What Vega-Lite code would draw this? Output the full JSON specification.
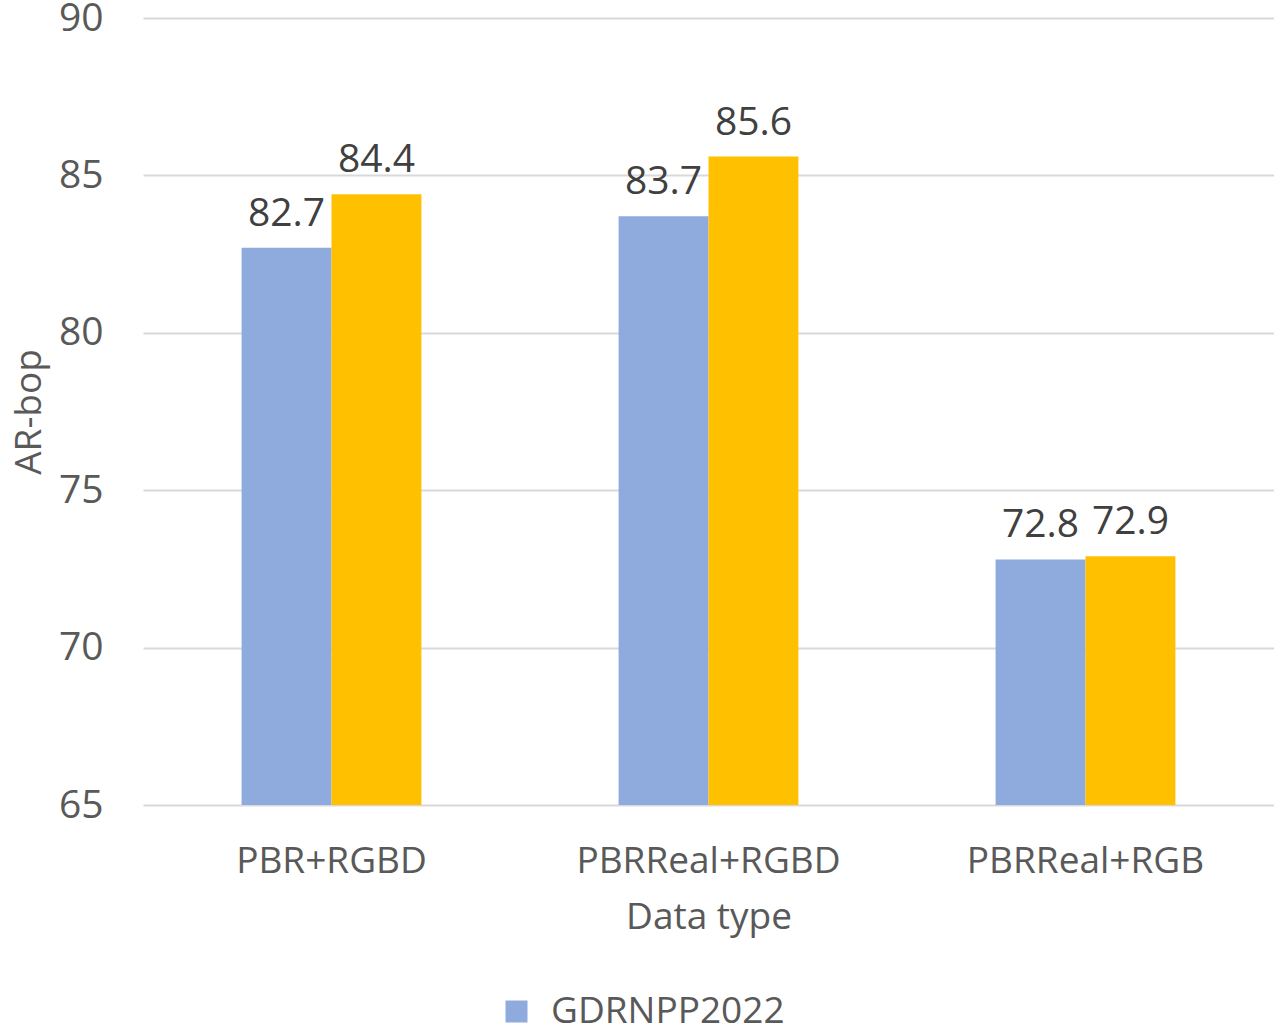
{
  "$schema": "https://vega.github.io/schema/vega-lite/v6.json",
  "autosize": {"type": "none"},
  "width": 1131,
  "height": 787,
  "padding": {"left": 143, "top": 18, "right": 0, "bottom": 228},
  "background": "white",
  "config": {"view": {"stroke": null}, "font": "Open Sans"},
  "data": {
    "values": [
      {"type": "PBR+RGBD", "method": "GDRNPP2022", "value": 82.7},
      {"type": "PBR+RGBD", "method": "Other", "value": 84.4},
      {"type": "PBRReal+RGBD", "method": "GDRNPP2022", "value": 83.7},
      {"type": "PBRReal+RGBD", "method": "Other", "value": 85.6},
      {"type": "PBRReal+RGB", "method": "GDRNPP2022", "value": 72.8},
      {"type": "PBRReal+RGB", "method": "Other", "value": 72.9}
    ]
  },
  "encoding": {
    "x": {
      "field": "type", "type": "nominal", "sort": null,
      "scale": {"paddingInner": 0.523, "paddingOuter": 0.2615},
      "axis": {
        "title": "Data type", "labelAngle": 0, "domain": false, "ticks": false, "labelLimit": 0,
        "labelFontSize": 37, "labelColor": "#595959", "labelPadding": 38,
        "titleFontSize": 37, "titleColor": "#595959", "titleFontWeight": "normal", "titlePadding": 20,
        "labelFont": "Open Sans", "titleFont": "Open Sans"
      }
    },
    "xOffset": {"field": "method", "type": "nominal", "sort": ["GDRNPP2022", "Other"], "scale": {"paddingInner": 0, "paddingOuter": 0}},
    "y": {
      "field": "value", "type": "quantitative",
      "scale": {"domain": [65, 90], "nice": false, "zero": false},
      "axis": {
        "title": "AR-bop", "values": [65, 70, 75, 80, 85, 90], "domain": false, "ticks": false,
        "grid": true, "gridColor": "#D9D9D9", "gridWidth": 2,
        "labelFontSize": 39, "labelColor": "#595959", "labelPadding": 40,
        "titleFontSize": 37, "titleColor": "#595959", "titleFontWeight": "normal", "titlePadding": 10,
        "labelFont": "Open Sans", "titleFont": "Open Sans"
      }
    }
  },
  "layer": [
    {
      "mark": {"type": "bar", "clip": true},
      "encoding": {
        "y2": {"datum": 65},
        "color": {
          "field": "method", "type": "nominal",
          "scale": {"domain": ["GDRNPP2022", "Other"], "range": ["#8FAADC", "#FFC000"]},
          "legend": {
            "values": ["GDRNPP2022"], "title": null, "orient": "none",
            "legendX": 355, "legendY": 975, "symbolType": "square", "symbolSize": 484,
            "symbolStrokeWidth": 0, "labelFontSize": 37, "labelColor": "#595959", "labelFont": "Open Sans",
            "labelOffset": 16, "labelLimit": 0
          }
        }
      }
    },
    {
      "mark": {"type": "text", "baseline": "alphabetic", "dy": -22, "fontSize": 39, "color": "#404040", "font": "Open Sans"},
      "encoding": {"text": {"field": "value", "type": "quantitative", "format": ".1f"}}
    }
  ]
}
